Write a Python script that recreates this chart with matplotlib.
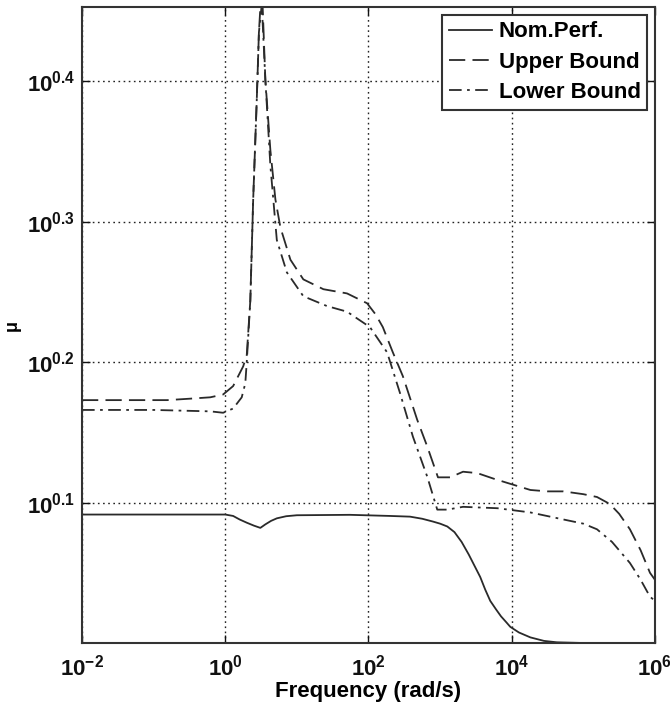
import numpy as np
import matplotlib
matplotlib.use("Agg")
import matplotlib.pyplot as plt
from matplotlib.ticker import NullLocator

plt.rcParams['font.family'] = ['Liberation Sans', 'DejaVu Sans']
plt.rcParams['mathtext.fontset'] = 'custom'
plt.rcParams['mathtext.bf'] = 'Liberation Sans:bold'
plt.rcParams['mathtext.rm'] = 'Liberation Sans'

# values, as log10(frequency) and log10(mu)
nom_lw = [-2, 0, 0.11, 0.2, 0.3, 0.4, 0.49, 0.56, 0.64, 0.72,
          0.85, 1.0, 1.74, 2.3, 2.58, 2.75, 2.90, 3.0, 3.10, 3.2,
          3.3, 3.4, 3.48, 3.56, 3.63, 3.70, 3.78, 3.85, 3.92, 3.98,
          4.1, 4.26, 4.45, 4.63, 5.0, 6.0]
nom_lmu = [0.0915, 0.0915, 0.0905, 0.088, 0.0857, 0.0836, 0.082, 0.0845, 0.087, 0.0888,
           0.0903, 0.091, 0.0913, 0.0905, 0.090, 0.0885, 0.0865, 0.085, 0.083, 0.079,
           0.072, 0.063, 0.055, 0.047, 0.038, 0.030, 0.024, 0.019, 0.015, 0.0115,
           0.0075, 0.004, 0.0015, 0.0005, 0.0, 0.0]

up_lw = [-2, -0.81, -0.5, -0.21, -0.03, 0.11, 0.25, 0.30, 0.35, 0.39,
         0.44, 0.47, 0.51, 0.56, 0.63, 0.70, 0.77, 0.91, 1.09, 1.37,
         1.70, 1.98, 2.10, 2.20, 2.34, 2.48, 2.68, 2.82, 2.97, 3.14,
         3.32, 3.52, 3.75, 3.94, 4.26, 4.5, 4.72, 5.0, 5.19, 5.37,
         5.5, 5.65, 5.8, 5.93, 6.0]
up_lmu = [0.173, 0.173, 0.174, 0.175, 0.177, 0.183, 0.197, 0.205, 0.244, 0.316,
          0.387, 0.435, 0.47, 0.401, 0.351, 0.316, 0.296, 0.273, 0.259, 0.252,
          0.249, 0.242, 0.234, 0.225, 0.207, 0.190, 0.159, 0.140, 0.118, 0.118,
          0.122, 0.121, 0.117, 0.114, 0.109, 0.108, 0.108, 0.106, 0.104, 0.099,
          0.092, 0.081, 0.066, 0.050, 0.045]

lo_lw = [-2, -1, -0.21, -0.03, 0.11, 0.23, 0.28, 0.30, 0.35, 0.39,
         0.44, 0.47, 0.51, 0.56, 0.63, 0.72, 0.86, 1.09, 1.42, 1.70,
         2.02, 2.26, 2.44, 2.62, 2.82, 2.96, 3.10, 3.32, 3.80, 4.26,
         4.72, 5.0, 5.19, 5.4, 5.65, 5.8, 5.93, 6.0]
lo_lmu = [0.166, 0.166, 0.165, 0.164, 0.167, 0.175, 0.185, 0.200, 0.244, 0.316,
          0.387, 0.435, 0.455, 0.401, 0.340, 0.287, 0.264, 0.247, 0.240, 0.236,
          0.225, 0.207, 0.178, 0.147, 0.1185, 0.095, 0.095, 0.097, 0.096, 0.093,
          0.088, 0.085, 0.081, 0.072, 0.057, 0.045, 0.033, 0.030]

labels = ['Nom.Perf.', 'Upper Bound', 'Lower Bound']
ytick_exp = [0.1, 0.2, 0.3, 0.4]
xtick_exp = [-2, 0, 2, 4, 6]

fig = plt.figure(figsize=(6.7, 7.08), dpi=100)
ax = fig.add_axes([0.1224, 0.0918, 0.8552, 0.8983])

c = '#2a2a2a'
ax.plot(10 ** np.array(nom_lw), 10 ** np.array(nom_lmu), color=c, lw=1.3,
        ls='-', label=labels[0])
ax.plot(10 ** np.array(up_lw), 10 ** np.array(up_lmu), color=c, lw=1.3,
        ls=(0, (9, 4)), label=labels[1])
ax.plot(10 ** np.array(lo_lw), 10 ** np.array(lo_lmu), color=c, lw=1.3,
        ls=(0, (7, 3, 1.5, 3)), label=labels[2])

ax.set_xscale('log')
ax.set_yscale('log')
ax.set_xlim(1e-2, 1e6)
ax.set_ylim(1.0, 10 ** 0.453)

ax.set_xticks([10.0 ** e for e in xtick_exp])
ax.set_xticklabels([r'$\mathbf{10^{%d}}$' % e for e in xtick_exp])
ax.set_yticks([10 ** e for e in ytick_exp])
ax.set_yticklabels([r'$\mathbf{10^{%.1f}}$' % e for e in ytick_exp])
ax.xaxis.set_minor_locator(NullLocator())
ax.yaxis.set_minor_locator(NullLocator())
ax.tick_params(direction='in', length=6, width=1, top=True, right=True,
               labelsize=16, colors='#111111')
ax.tick_params(axis='x', pad=8)
ax.tick_params(axis='y', pad=5)

ax.grid(True, which='major', color='#222222', ls=(0, (1.2, 2.5)), lw=1)
for s in ax.spines.values():
    s.set_linewidth(1.5)
    s.set_color('#333333')

ax.set_xlabel('Frequency (rad/s)', fontsize=16, fontweight='bold', labelpad=1)
ax.set_ylabel('μ', fontsize=13, fontweight='bold', labelpad=4)

leg = ax.legend(loc='upper right', fancybox=False, framealpha=1,
                edgecolor='#333333', fontsize=16, handlelength=1.95,
                handletextpad=0.3, borderpad=0.3, labelspacing=0.42,
                borderaxespad=0.35)
leg.get_frame().set_linewidth(1.5)
for t in leg.get_texts():
    t.set_fontweight('bold')

fig.savefig('out.png', dpi=100)
